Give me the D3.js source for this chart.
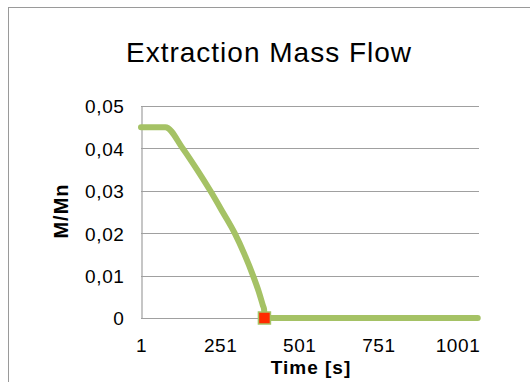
<!DOCTYPE html>
<html>
<head>
<meta charset="utf-8">
<script src="https://cdn.jsdelivr.net/npm/d3@7"></script>
<style>
html,body{margin:0;padding:0;background:#fff;}
svg{display:block;}
text{font-family:"Liberation Sans",Arial,Helvetica,sans-serif;fill:#000;}
</style>
</head>
<body>
<svg id="chart" width="530" height="382"></svg>
<script>
// Data
const timeValues = [1, 40, 78, 133, 178, 220, 259, 297, 328, 355, 374, 386, 390, 391, 1065];
const massFlow   = [0.045, 0.045, 0.045, 0.040, 0.035, 0.030, 0.025, 0.020, 0.015, 0.010, 0.006, 0.003, 0.002, 0, 0];
const markerTime = [391];
const markerValue = [0];
const xTickLabels = [1, 251, 501, 751, 1001];
const yTickValues = [0, 0.01, 0.02, 0.03, 0.04, 0.05];
const titleText = "Extraction Mass Flow";
const xTitle = "Time [s]";
const yTitle = "M/Mn";

const svg = d3.select("#chart");

// chart frame (extends beyond window)
svg.append("rect")
  .attr("x", 8.5).attr("y", 7.5).attr("width", 700).attr("height", 700)
  .attr("fill", "#fff").attr("stroke", "#9a9a9a").attr("stroke-width", 1);

const x = d3.scaleLinear().domain([1, 1001]).range([141, 457.5]);
const y = d3.scaleLinear().domain([0, 0.05]).range([318, 106]);
const plotRight = 479;

// gridlines
svg.append("g").selectAll("line").data(yTickValues.filter(d => d > 0)).join("line")
  .attr("x1", 141).attr("x2", plotRight)
  .attr("y1", d => Math.round(y(d)) + 0.5).attr("y2", d => Math.round(y(d)) + 0.5)
  .attr("stroke", "#a0a0a0").attr("stroke-width", 1.2);

// y axis
const yAxis = d3.axisLeft(y).tickValues(yTickValues).tickSize(0).tickPadding(17)
  .tickFormat(d => d === 0 ? "0" : d.toFixed(2).replace(".", ","));
const gy = svg.append("g").attr("transform", "translate(141.5,0)").call(yAxis);
gy.select(".domain").attr("stroke", "#a0a0a0").attr("stroke-width", 1.2);
gy.selectAll("text").style("font-size", "19px").style("letter-spacing", "0.6px").attr("dy", "0.36em");

// x axis
const xAxis = d3.axisBottom(x).tickValues(xTickLabels).tickSize(0).tickPadding(20)
  .tickFormat(d3.format("d"));
const gx = svg.append("g").attr("transform", "translate(0,318.5)").call(xAxis);
gx.select(".domain").attr("d", `M141,0H${plotRight}`).attr("stroke", "#a0a0a0").attr("stroke-width", 1.2);
gx.selectAll("text").style("font-size", "19px").style("letter-spacing", "0.6px").attr("dy", "0.71em");

// series line
const line = d3.line().curve(d3.curveMonotoneX).x((d, i) => x(timeValues[i])).y(d => y(d));
svg.append("path").datum(massFlow)
  .attr("d", line)
  .attr("fill", "none").attr("stroke", "#a5c265").attr("stroke-width", 6)
  .attr("stroke-linejoin", "round").attr("stroke-linecap", "round");

// marker
svg.append("g").selectAll("rect").data(markerTime).join("rect")
  .attr("x", (d) => x(d) - 6).attr("y", (d, i) => y(markerValue[i]) - 6)
  .attr("width", 12).attr("height", 12)
  .attr("fill", "#ff2a00").attr("stroke", "#a5c265").attr("stroke-width", 1.5);

// titles
svg.append("text").attr("x", 269).attr("y", 61.5).attr("text-anchor", "middle")
  .style("font-size", "28px").style("letter-spacing", "1px").text(titleText);
svg.append("text").attr("x", 311).attr("y", 374).attr("text-anchor", "middle")
  .style("font-size", "19px").style("font-weight", "bold").style("letter-spacing", "1px").text(xTitle);
svg.append("text").attr("transform", "translate(68,211) rotate(-90)").attr("text-anchor", "middle")
  .style("font-size", "20px").style("font-weight", "bold").style("letter-spacing", "1px").text(yTitle);
</script>
</body>
</html>
